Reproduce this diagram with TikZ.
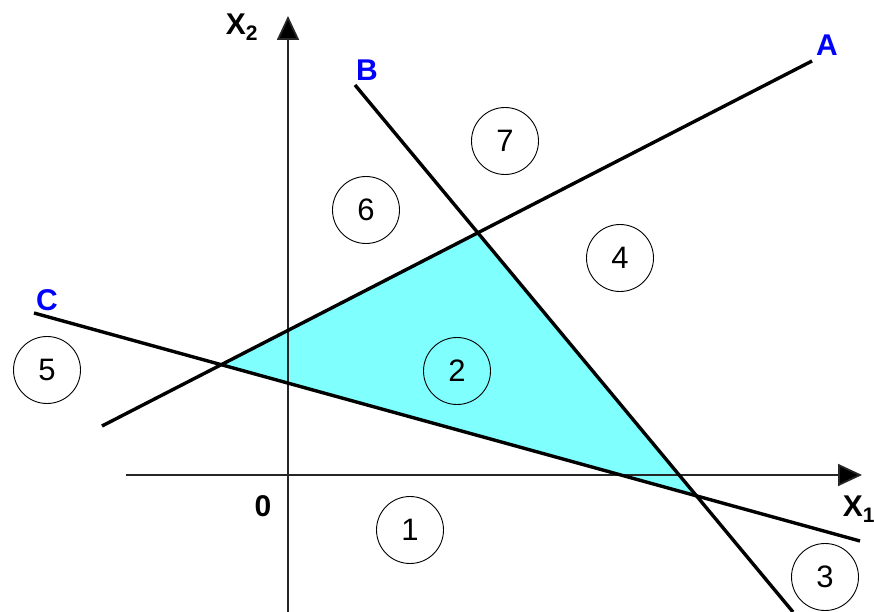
\documentclass[tikz,border=0pt]{standalone}
\usepackage{fontspec}
\setmainfont{Liberation Sans}
\usetikzlibrary{arrows.meta,calc}
\definecolor{regionfill}{HTML}{80FFFF}
\definecolor{labelblue}{HTML}{0000FF}
\definecolor{axisgray}{HTML}{262626}

\begin{document}
\begin{tikzpicture}[x=1pt,y=-1pt,
  axis/.style={draw=axisgray,line width=1.8pt,-{Triangle[length=24pt,width=22pt,fill=black]}},
  bound/.style={draw=black,line width=3.4pt},
  region/.style={circle,draw=black,line width=0.9pt,minimum size=67pt,inner sep=0pt,
    font=\fontsize{31}{35}\selectfont},
  axislabel/.style={font=\fontsize{30}{34}\selectfont\bfseries,inner sep=0pt},
  linelabel/.style={font=\fontsize{30}{34}\selectfont\bfseries,text=labelblue,inner sep=0pt}]
  \useasboundingbox (0,0) rectangle (874,612);

  % end points of the axes and the three lines
  \coordinate (x1start) at (126,475);
  \coordinate (x1end) at (862,475);
  \coordinate (x2start) at (288,612);
  \coordinate (x2end) at (288,16);
  \coordinate (a1) at (102,426);
  \coordinate (a2) at (812,61);
  \coordinate (b1) at (355,85);
  \coordinate (b2) at (793,612);
  \coordinate (c1) at (34,313);
  \coordinate (c2) at (860,541);

  % corners of the feasible region
  \coordinate (ab) at (intersection of a1--a2 and b1--b2);
  \coordinate (ac) at (intersection of a1--a2 and c1--c2);
  \coordinate (bc) at (intersection of b1--b2 and c1--c2);
  \fill[regionfill] (ac) -- (ab) -- (bc) -- cycle;

  \draw[axis] (x1start) -- (x1end);
  \draw[axis] (x2start) -- (x2end);

  \draw[bound] (a1) -- (a2);
  \draw[bound] (b1) -- (b2);
  \draw[bound] (c1) -- (c2);

  \node[axislabel] (x2label) at (242,27) {X\textsubscript{2}};
  \node[axislabel] (x1label) at (859,509) {X\textsubscript{1}};
  \node[axislabel] (origin) at (263,506) {0};
  \node[linelabel] (alabel) at (827,45) {A};
  \node[linelabel] (blabel) at (367,70) {B};
  \node[linelabel] (clabel) at (47,300) {C};

  \node[region] (r1) at (410,530) {1};
  \node[region] (r2) at (457,371) {2};
  \node[region] (r3) at (825,577) {3};
  \node[region] (r4) at (620,258) {4};
  \node[region] (r5) at (47,370) {5};
  \node[region] (r6) at (366,210) {6};
  \node[region] (r7) at (505,141) {7};
\end{tikzpicture}
\end{document}
